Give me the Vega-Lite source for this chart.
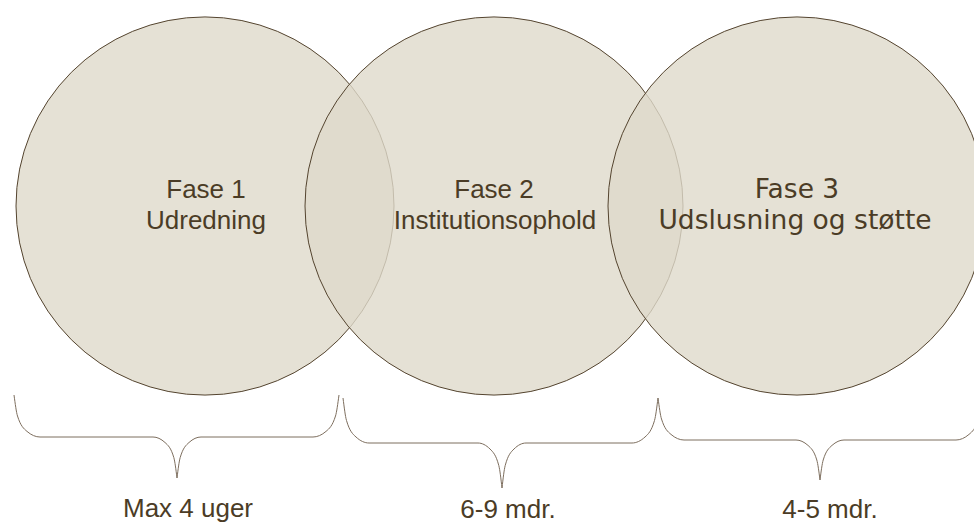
{
  "$schema": "https://vega.github.io/schema/vega-lite/v6.json",
  "width": 974,
  "height": 523,
  "padding": 0,
  "autosize": {"type": "none"},
  "background": "white",
  "config": {"view": {"stroke": null}},
  "datasets": {
    "circles": [
      {"phase": "Fase 1", "x": 205, "y": 206},
      {"phase": "Fase 2", "x": 494, "y": 206},
      {"phase": "Fase 3", "x": 797, "y": 206}
    ],
    "braces": [
      {"part": "1L", "i": 0, "x": 14, "y": 395},
      {"part": "1L", "i": 1, "x": 17.5, "y": 416},
      {"part": "1L", "i": 2, "x": 27, "y": 431.4},
      {"part": "1L", "i": 3, "x": 40, "y": 437},
      {"part": "1L", "i": 4, "x": 153, "y": 437},
      {"part": "1L", "i": 5, "x": 165, "y": 442.5},
      {"part": "1L", "i": 6, "x": 173.8, "y": 457.5},
      {"part": "1L", "i": 7, "x": 177, "y": 478},
      {"part": "1R", "i": 0, "x": 177, "y": 478},
      {"part": "1R", "i": 1, "x": 180.2, "y": 457.5},
      {"part": "1R", "i": 2, "x": 189, "y": 442.5},
      {"part": "1R", "i": 3, "x": 201, "y": 437},
      {"part": "1R", "i": 4, "x": 313, "y": 437},
      {"part": "1R", "i": 5, "x": 326, "y": 431.4},
      {"part": "1R", "i": 6, "x": 335.5, "y": 416},
      {"part": "1R", "i": 7, "x": 339, "y": 395},
      {"part": "2L", "i": 0, "x": 343, "y": 398},
      {"part": "2L", "i": 1, "x": 346.5, "y": 420.5},
      {"part": "2L", "i": 2, "x": 356, "y": 437},
      {"part": "2L", "i": 3, "x": 369, "y": 443},
      {"part": "2L", "i": 4, "x": 478, "y": 443},
      {"part": "2L", "i": 5, "x": 490, "y": 449},
      {"part": "2L", "i": 6, "x": 498.8, "y": 465.5},
      {"part": "2L", "i": 7, "x": 502, "y": 488},
      {"part": "2R", "i": 0, "x": 502, "y": 488},
      {"part": "2R", "i": 1, "x": 505.2, "y": 465.5},
      {"part": "2R", "i": 2, "x": 514, "y": 449},
      {"part": "2R", "i": 3, "x": 526, "y": 443},
      {"part": "2R", "i": 4, "x": 632, "y": 443},
      {"part": "2R", "i": 5, "x": 645, "y": 437},
      {"part": "2R", "i": 6, "x": 654.5, "y": 420.5},
      {"part": "2R", "i": 7, "x": 658, "y": 398},
      {"part": "3L", "i": 0, "x": 658, "y": 398},
      {"part": "3L", "i": 1, "x": 661.5, "y": 419},
      {"part": "3L", "i": 2, "x": 671, "y": 434.4},
      {"part": "3L", "i": 3, "x": 684, "y": 440},
      {"part": "3L", "i": 4, "x": 796, "y": 440},
      {"part": "3L", "i": 5, "x": 808, "y": 445.4},
      {"part": "3L", "i": 6, "x": 816.8, "y": 460},
      {"part": "3L", "i": 7, "x": 820, "y": 480},
      {"part": "3R", "i": 0, "x": 820, "y": 480},
      {"part": "3R", "i": 1, "x": 823.2, "y": 460},
      {"part": "3R", "i": 2, "x": 832, "y": 445.4},
      {"part": "3R", "i": 3, "x": 844, "y": 440},
      {"part": "3R", "i": 4, "x": 956, "y": 440},
      {"part": "3R", "i": 5, "x": 969, "y": 434.4},
      {"part": "3R", "i": 6, "x": 978.5, "y": 419},
      {"part": "3R", "i": 7, "x": 982, "y": 398}
    ],
    "labels": [
      {"text": "Fase 1", "x": 206, "y": 198},
      {"text": "Udredning", "x": 206, "y": 229},
      {"text": "Fase 2", "x": 494, "y": 198},
      {"text": "Institutionsophold", "x": 495, "y": 229},
      {"text": "Max 4 uger", "x": 188, "y": 517},
      {"text": "6-9 mdr.", "x": 508, "y": 518},
      {"text": "4-5 mdr.", "x": 830, "y": 518}
    ],
    "labels3": [
      {"text": "Fase 3", "x": 797, "y": 198},
      {"text": "Udslusning og støtte", "x": 795, "y": 229}
    ]
  },
  "layer": [
    {
      "data": {"name": "circles"},
      "mark": {
        "type": "point",
        "shape": "circle",
        "filled": true,
        "fill": "#dfdacb",
        "fillOpacity": 0.8,
        "stroke": "#54442f",
        "strokeWidth": 1,
        "strokeOpacity": 1,
        "opacity": 1,
        "size": 142884
      },
      "encoding": {
        "x": {"field": "x", "type": "quantitative", "scale": {"domain": [0, 974], "nice": false, "zero": false}, "axis": null},
        "y": {"field": "y", "type": "quantitative", "scale": {"domain": [0, 523], "nice": false, "zero": false, "reverse": true}, "axis": null}
      }
    },
    {
      "data": {"name": "braces"},
      "mark": {"type": "line", "interpolate": "monotone", "stroke": "#7d6e5e", "strokeWidth": 1},
      "encoding": {
        "x": {"field": "x", "type": "quantitative", "scale": {"domain": [0, 974], "nice": false, "zero": false}, "axis": null},
        "y": {"field": "y", "type": "quantitative", "scale": {"domain": [0, 523], "nice": false, "zero": false, "reverse": true}, "axis": null},
        "detail": {"field": "part", "type": "nominal"},
        "order": {"field": "i", "type": "quantitative"}
      }
    },
    {
      "data": {"name": "labels"},
      "mark": {"type": "text", "font": "Liberation Sans", "fontSize": 26, "fill": "#4b3c26", "align": "center", "baseline": "alphabetic"},
      "encoding": {
        "x": {"field": "x", "type": "quantitative", "scale": {"domain": [0, 974], "nice": false, "zero": false}, "axis": null},
        "y": {"field": "y", "type": "quantitative", "scale": {"domain": [0, 523], "nice": false, "zero": false, "reverse": true}, "axis": null},
        "text": {"field": "text", "type": "nominal"}
      }
    },
    {
      "data": {"name": "labels3"},
      "mark": {"type": "text", "font": "DejaVu Sans", "fontSize": 26.5, "fill": "#4b3c26", "align": "center", "baseline": "alphabetic"},
      "encoding": {
        "x": {"field": "x", "type": "quantitative", "scale": {"domain": [0, 974], "nice": false, "zero": false}, "axis": null},
        "y": {"field": "y", "type": "quantitative", "scale": {"domain": [0, 523], "nice": false, "zero": false, "reverse": true}, "axis": null},
        "text": {"field": "text", "type": "nominal"}
      }
    }
  ]
}
